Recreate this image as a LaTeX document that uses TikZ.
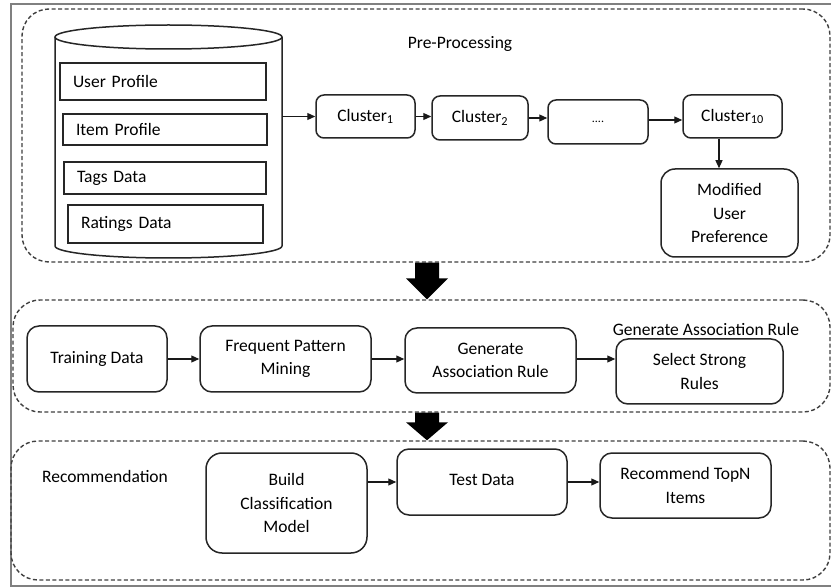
\documentclass[tikz,border=0pt]{standalone}
\usepackage{fontspec}
\setmainfont{Carlito}
\usetikzlibrary{arrows.meta,calc}
\begin{document}
\begin{tikzpicture}[x=1pt,y=-1pt,
  every node/.style={font=\fontsize{17.5}{23.5}\selectfont, text=black},
  box/.style={draw=black!85, line width=1.5pt, rounded corners=8pt, align=center, inner sep=2pt},
  pbox/.style={draw=black!85, line width=1.5pt, inner xsep=13pt, inner ysep=0pt, align=left},
  grp/.style={draw=black!75, line width=1.4pt, dash pattern=on 4pt off 2.5pt, rounded corners=27pt, inner sep=0pt},
  arr/.style={-{Triangle[length=8pt,width=7pt]}, line width=1.2pt, draw=black!90},
  bigarr/.style={fill=black}
]
\clip (0,0) rectangle (831,588);
\fill[white] (0,0) rectangle (831,588);
% outer frame
\draw[draw=black!50, line width=1.6pt] (11,4) rectangle (850,586);

% groups
\node[grp, minimum width=808pt, minimum height=253pt] (g1) at (426,135.5) {};
\node[grp, minimum width=817pt, minimum height=112pt] (g2) at (421.5,356) {};
\node[grp, minimum width=819pt, minimum height=139pt] (g3) at (420.5,510.5) {};

% labels
\node (lpre) at (460,44) {Pre-Processing};
\node (lgar) at (706,329) {Generate Association Rule};
\node (lrec) at (105,476) {Recommendation};

% cylinder
\node[minimum width=227pt, minimum height=233pt, inner sep=0pt] (db) at (168.5,141.5) {};
\draw[draw=black!85, line width=1.5pt] (55,37) -- (55,246) arc[start angle=180, end angle=360, x radius=113.5pt, y radius=12pt] -- (282,37);
\draw[draw=black!85, line width=1.5pt] (168.5,37) ellipse [x radius=113.5pt, y radius=12pt];

\node[pbox, text width=180pt, minimum height=37pt] (up) at (163,81.5) {User Profile};
\node[pbox, text width=178pt, minimum height=31pt] (ip) at (165,129.5) {Item Profile};
\node[pbox, text width=176pt, minimum height=32pt] (td) at (165,178) {Tags Data};
\node[pbox, text width=169pt, minimum height=38pt] (rd) at (165.5,224) {Ratings Data};

% clusters
\node[box, minimum width=99pt, minimum height=43pt] (c1) at (365.5,116.5) {Cluster\textsubscript{1}};
\node[box, minimum width=96pt, minimum height=44pt] (c2) at (480,118) {Cluster\textsubscript{2}};
\node[box, minimum width=100pt, minimum height=44pt] (dots) at (598,122) {\fontsize{12}{14}\selectfont....};
\node[box, minimum width=99pt, minimum height=43pt] (c10) at (732.5,116.5) {Cluster\textsubscript{10}};
\node[box, minimum width=137pt, minimum height=88pt, rounded corners=14pt] (mod) at (729.5,213) {Modified\\User\\Preference};

\draw[arr] (db.east |- c1.west) -- (c1.west);
\draw[arr] (c1.east) -- (c1.east -| c2.west);
\draw[arr] (c2.east) -- (c2.east -| dots.west);
\draw[arr] ([yshift=2pt]dots.east) -- ([yshift=2pt]dots.east -| c10.west);
\coordinate (vx) at (719,0);
\draw[arr] (c10.south -| vx) -- (mod.north -| vx);

% middle row
\node[box, minimum width=140pt, minimum height=66pt, rounded corners=12pt] (train) at (97,359) {\raisebox{4pt}{Training Data}};
\node[box, minimum width=171pt, minimum height=66pt, rounded corners=12pt] (fpm) at (285.5,359) {Frequent Pattern\\Mining};
\node[box, minimum width=171pt, minimum height=65pt, rounded corners=12pt] (gar) at (490.5,360.5) {Generate\\Association Rule};
\node[box, minimum width=167pt, minimum height=65pt, rounded corners=12pt] (ssr) at (699.5,371.5) {Select Strong\\Rules};

\draw[arr] (train.east) -- (train.east -| fpm.west);
\draw[arr] (fpm.east) -- (fpm.east -| gar.west);
\draw[arr] ([yshift=1.5pt]gar.east) -- ([yshift=1.5pt]gar.east -| ssr.west);

% bottom row
\node[box, minimum width=161pt, minimum height=100pt, rounded corners=16pt] (bcm) at (286.5,503) {Build\\Classification\\Model};
\node[box, minimum width=170pt, minimum height=66pt, rounded corners=12pt] (test) at (482,482) {\raisebox{5pt}{Test Data}};
\node[box, minimum width=171pt, minimum height=65pt, rounded corners=12pt] (rec) at (685.5,485.5) {Recommend TopN\\Items};

\draw[arr] (test.west -| bcm.east) -- (test.west);
\draw[arr] (test.east) -- (test.east -| rec.west);

% big arrows between groups
\coordinate (bx) at (427,0);
\coordinate (a1s) at (g1.south -| bx);
\coordinate (a1e) at (g2.north -| bx);
\coordinate (a2s) at (g2.south -| bx);
\coordinate (a2e) at (g3.north -| bx);
\fill[bigarr] ($(a1s)+(-12,0)$) -- ($(a1s)+(12,0)$) -- ($(a1e)+(12,-21)$) -- ($(a1e)+(21,-21)$) -- (a1e) -- ($(a1e)+(-21,-21)$) -- ($(a1e)+(-12,-21)$) -- cycle;
\fill[bigarr] ($(a2s)+(-12,0)$) -- ($(a2s)+(12,0)$) -- ($(a2e)+(12,-18)$) -- ($(a2e)+(21,-18)$) -- (a2e) -- ($(a2e)+(-21,-18)$) -- ($(a2e)+(-12,-18)$) -- cycle;
\end{tikzpicture}
\end{document}
